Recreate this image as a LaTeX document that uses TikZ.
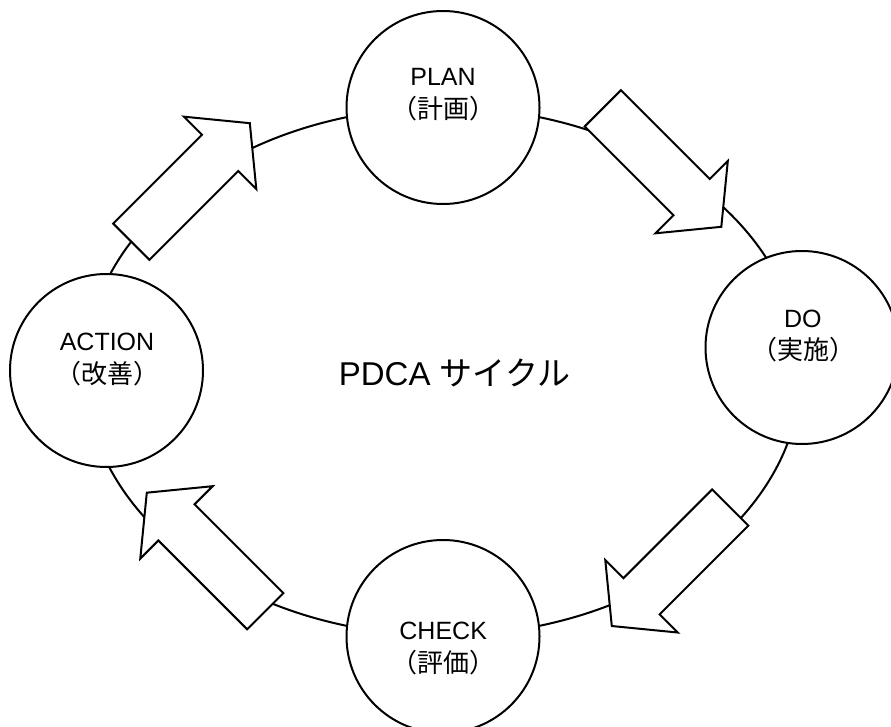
\documentclass[tikz,border=0pt]{standalone}
\usepackage{fontspec}
\setmainfont{Liberation Sans}
\newfontfamily\jpfont{Noto Sans CJK JP}
\tikzset{
  cyc/.style={circle, draw=black, fill=white, line width=2pt, minimum size=193pt, inner sep=0pt},
  en/.style={anchor=base, inner sep=0pt, font=\fontsize{25}{31}\selectfont},
  jp/.style={anchor=base, inner sep=0pt, font=\jpfont\fontsize{26}{31}\selectfont},
  arrowline/.style={draw=black, fill=white, line width=2pt, line join=miter},
  blockarrow/.pic={
    \path[arrowline] (0,-25.6) -- (125.6,-25.6) -- (125.6,-51.2) -- (167.6,0)
      -- (125.6,51.2) -- (125.6,25.6) -- (0,25.6) -- cycle;
  }
}
\begin{document}
\begin{tikzpicture}[x=1pt,y=-1pt,line width=2pt]
\useasboundingbox (0,0) rectangle (891,727);
\clip (0,0) rectangle (891,727);
% cycle ellipse
\draw (443,371.5) ellipse [x radius=358, y radius=264];
% circles
\node[cyc] (plan) at (443,107.5) {};
\node[cyc] (do) at (802,347.5) {};
\node[cyc] (check) at (443,636.5) {};
\node[cyc] (act) at (106.5,370.5) {};
% labels
\node[en] (planen) at (443,86) {PLAN};
\node[jp] (planjp) at (443,118.5) {（計画）};
\node[en] (doen) at (802.8,327.3) {DO};
\node[jp] (dojp) at (803,359.2) {（実施）};
\node[en] (checken) at (443.2,639.3) {CHECK};
\node[jp] (checkjp) at (443.2,672.5) {（評価）};
\node[en] (acten) at (107,350.7) {ACTION};
\node[jp] (actjp) at (107.5,383.5) {（改善）};
% title
\node[anchor=base, inner sep=0pt, font=\fontsize{33}{39}\selectfont] (title) at (454.5,385.7) {PDCA {\jpfont サイクル}};
% block arrows
\pic[rotate=-45] at (602.8,108.3) {blockarrow};
\pic[rotate=-135] at (730.3,507.5) {blockarrow};
\pic[rotate=135] at (265.3,611.2) {blockarrow};
\pic[rotate=45] at (131.3,241.7) {blockarrow};
\end{tikzpicture}
\end{document}
